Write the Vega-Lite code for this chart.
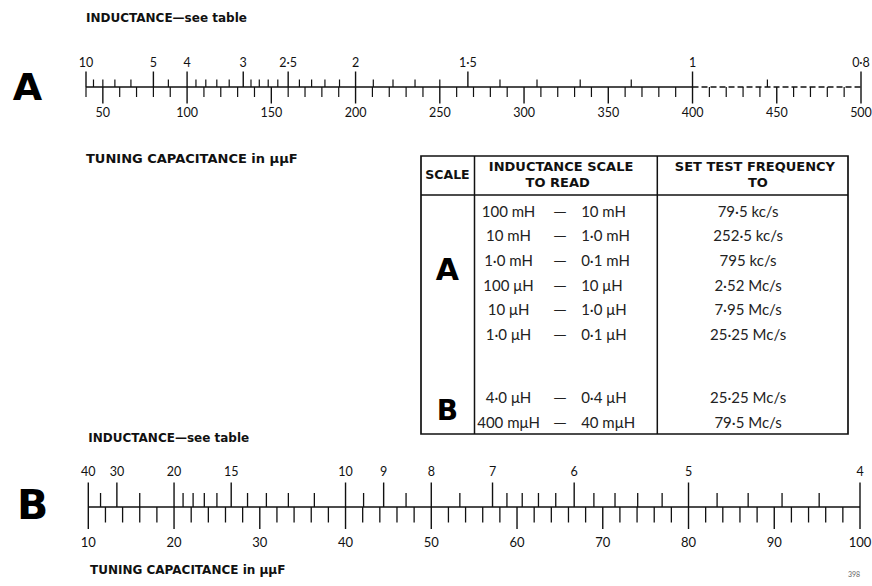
{
  "$schema": "https://vega.github.io/schema/vega-lite/v6.json",
  "padding": 0,
  "spacing": 0,
  "bounds": "flush",
  "config": {"view": {"stroke": null}, "font": "Lato"},
  "resolve": {"scale": {"x": "independent", "y": "independent"}},
  "datasets": {
    "capA": [{"C":40},{"C":50},{"C":60},{"C":70},{"C":80},{"C":90},{"C":100},{"C":110},{"C":120},{"C":130},{"C":140},{"C":150},{"C":160},{"C":170},{"C":180},{"C":190},{"C":200},{"C":210},{"C":220},{"C":230},{"C":240},{"C":250},{"C":260},{"C":270},{"C":280},{"C":290},{"C":300},{"C":310},{"C":320},{"C":330},{"C":340},{"C":350},{"C":360},{"C":370},{"C":380},{"C":390},{"C":400},{"C":410},{"C":420},{"C":430},{"C":440},{"C":450},{"C":460},{"C":470},{"C":480},{"C":490},{"C":500}],
    "indA": [{"L":10,"label":"10"},{"L":9},{"L":8},{"L":7},{"L":6},{"L":5,"label":"5"},{"L":4.5},{"L":4,"label":"4"},{"L":3.8},{"L":3.6},{"L":3.4},{"L":3.2},{"L":3,"label":"3"},{"L":2.9},{"L":2.8},{"L":2.7},{"L":2.6},{"L":2.5,"label":"2·5"},{"L":2.4},{"L":2.3},{"L":2.2},{"L":2.1},{"L":2,"label":"2"},{"L":1.9},{"L":1.8},{"L":1.7},{"L":1.6},{"L":1.5,"label":"1·5"},{"L":1.4},{"L":1.3},{"L":1.2},{"L":1.1},{"L":1,"label":"1"},{"L":0.9},{"L":0.8,"label":"0·8"}],
    "capB": [{"C":10},{"C":12},{"C":14},{"C":16},{"C":18},{"C":20},{"C":22},{"C":24},{"C":26},{"C":28},{"C":30},{"C":32},{"C":34},{"C":36},{"C":38},{"C":40},{"C":42},{"C":44},{"C":46},{"C":48},{"C":50},{"C":52},{"C":54},{"C":56},{"C":58},{"C":60},{"C":62},{"C":64},{"C":66},{"C":68},{"C":70},{"C":72},{"C":74},{"C":76},{"C":78},{"C":80},{"C":82},{"C":84},{"C":86},{"C":88},{"C":90},{"C":92},{"C":94},{"C":96},{"C":98},{"C":100}],
    "indB": [{"L":40,"label":"40"},{"L":35},{"L":30,"label":"30"},{"L":25},{"L":20,"label":"20"},{"L":19},{"L":18},{"L":17},{"L":16},{"L":15,"label":"15"},{"L":14},{"L":13},{"L":12},{"L":11},{"L":10,"label":"10"},{"L":9.5},{"L":9,"label":"9"},{"L":8.5},{"L":8,"label":"8"},{"L":7.5},{"L":7,"label":"7"},{"L":6.8},{"L":6.6},{"L":6.4},{"L":6.2},{"L":6,"label":"6"},{"L":5.8},{"L":5.6},{"L":5.4},{"L":5.2},{"L":5,"label":"5"},{"L":4.8},{"L":4.6},{"L":4.4},{"L":4.2},{"L":4,"label":"4"}],
    "tableA": [
      {"line":1,"from":"100 mH","to":"10 mH","freq":"79·5 kc/s"},
      {"line":2,"from":"10 mH","to":"1·0 mH","freq":"252·5 kc/s"},
      {"line":3,"from":"1·0 mH","to":"0·1 mH","freq":"795 kc/s"},
      {"line":4,"from":"100 μH","to":"10 μH","freq":"2·52 Mc/s"},
      {"line":5,"from":"10 μH","to":"1·0 μH","freq":"7·95 Mc/s"},
      {"line":6,"from":"1·0 μH","to":"0·1 μH","freq":"25·25 Mc/s"}
    ],
    "tableB": [
      {"line":1,"from":"4·0 μH","to":"0·4 μH","freq":"25·25 Mc/s"},
      {"line":2,"from":"400 mμH","to":"40 mμH","freq":"79·5 Mc/s"}
    ]
  },
  "vconcat": [
    {
      "width": 872,
      "height": 156,
      "resolve": {"scale": {"x": "independent"}},
      "layer": [
        {
          "layer": [
            {"data": {"values": [{}]}, "mark": {"type": "rule", "color": "#111", "strokeWidth": 1.4},
             "encoding": {"x": {"datum": 40, "type": "quantitative", "scale": {"domain": [40,500], "range": [86,861], "zero": false, "nice": false}, "axis": null}, "x2": {"datum": 400},
                          "y": {"datum": 0, "type": "quantitative", "scale": {"domain": [-69,87], "zero": false, "nice": false}, "axis": null}}},
            {"data": {"values": [{}]}, "mark": {"type": "rule", "color": "#111", "strokeWidth": 1.4, "strokeDash": [6,3]},
             "encoding": {"x": {"datum": 400, "type": "quantitative", "scale": {"domain": [40,500], "range": [86,861], "zero": false, "nice": false}, "axis": null}, "x2": {"datum": 500},
                          "y": {"datum": 0, "type": "quantitative", "scale": {"domain": [-69,87], "zero": false, "nice": false}, "axis": null}}},
            {"data": {"name": "capA"}, "transform": [{"filter": "datum.C % 50 != 0"}], "mark": {"type": "rule", "color": "#111", "strokeWidth": 1.2},
             "encoding": {"x": {"field": "C", "type": "quantitative", "scale": {"domain": [40,500], "range": [86,861], "zero": false, "nice": false}, "axis": null},
                          "y": {"datum": 0, "type": "quantitative", "scale": {"domain": [-69,87], "zero": false, "nice": false}, "axis": null}, "y2": {"datum": -10}}},
            {"data": {"name": "capA"}, "transform": [{"filter": "datum.C % 50 == 0"}], "mark": {"type": "rule", "color": "#111", "strokeWidth": 1.4},
             "encoding": {"x": {"field": "C", "type": "quantitative", "scale": {"domain": [40,500], "range": [86,861], "zero": false, "nice": false}, "axis": null},
                          "y": {"datum": 0, "type": "quantitative", "scale": {"domain": [-69,87], "zero": false, "nice": false}, "axis": null}, "y2": {"datum": -16.5}}},
            {"data": {"name": "capA"}, "transform": [{"filter": "datum.C % 50 == 0"}], "mark": {"type": "text", "font": "Lato", "fontSize": 12.5, "color": "#111", "baseline": "middle", "align": "center"},
             "encoding": {"x": {"field": "C", "type": "quantitative", "scale": {"domain": [40,500], "range": [86,861], "zero": false, "nice": false}, "axis": null},
                          "y": {"datum": -26, "type": "quantitative", "scale": {"domain": [-69,87], "zero": false, "nice": false}, "axis": null}, "text": {"field": "C", "type": "quantitative"}}},
            {"data": {"values": [{}]}, "mark": {"type": "text", "text": "INDUCTANCE—see table", "font": "DejaVu Sans", "fontWeight": "bold", "fontSize": 12, "color": "#111", "align": "left", "baseline": "middle"},
             "encoding": {"x": {"datum": 40, "type": "quantitative", "scale": {"domain": [40,500], "range": [86,861], "zero": false, "nice": false}, "axis": null},
                          "y": {"datum": 69, "type": "quantitative", "scale": {"domain": [-69,87], "zero": false, "nice": false}, "axis": null}}},
            {"data": {"values": [{}]}, "mark": {"type": "text", "text": "TUNING CAPACITANCE in μμF", "font": "DejaVu Sans", "fontWeight": "bold", "fontSize": 13, "color": "#111", "align": "left", "baseline": "middle"},
             "encoding": {"x": {"datum": 40, "type": "quantitative", "scale": {"domain": [40,500], "range": [86,861], "zero": false, "nice": false}, "axis": null},
                          "y": {"datum": -72, "type": "quantitative", "scale": {"domain": [-69,87], "zero": false, "nice": false}, "axis": null}}},
            {"data": {"values": [{}]}, "mark": {"type": "text", "text": "A", "font": "DejaVu Sans", "fontWeight": "bold", "fontSize": 38, "color": "#000", "align": "center", "baseline": "middle"},
             "encoding": {"x": {"datum": 5.3, "type": "quantitative", "scale": {"domain": [40,500], "range": [86,861], "zero": false, "nice": false}, "axis": null},
                          "y": {"datum": -1.5, "type": "quantitative", "scale": {"domain": [-69,87], "zero": false, "nice": false}, "axis": null}}}
          ]
        },
        {
          "layer": [
            {"data": {"name": "indA"}, "transform": [{"filter": "!datum.label"}], "mark": {"type": "rule", "color": "#111", "strokeWidth": 1.2},
             "encoding": {"x": {"field": "L", "type": "quantitative", "scale": {"type": "pow", "exponent": -1, "domain": [10,0.8], "range": [86,861], "zero": false, "nice": false}, "axis": null},
                          "y": {"datum": 0, "type": "quantitative", "scale": {"domain": [-69,87], "zero": false, "nice": false}, "axis": null}, "y2": {"datum": 7.5}}},
            {"data": {"name": "indA"}, "transform": [{"filter": "datum.label"}], "mark": {"type": "rule", "color": "#111", "strokeWidth": 1.4},
             "encoding": {"x": {"field": "L", "type": "quantitative", "scale": {"type": "pow", "exponent": -1, "domain": [10,0.8], "range": [86,861], "zero": false, "nice": false}, "axis": null},
                          "y": {"datum": 0, "type": "quantitative", "scale": {"domain": [-69,87], "zero": false, "nice": false}, "axis": null}, "y2": {"datum": 15.5}}},
            {"data": {"name": "indA"}, "transform": [{"filter": "datum.label"}], "mark": {"type": "text", "font": "Lato", "fontSize": 12.5, "color": "#111", "baseline": "middle", "align": "center"},
             "encoding": {"x": {"field": "L", "type": "quantitative", "scale": {"type": "pow", "exponent": -1, "domain": [10,0.8], "range": [86,861], "zero": false, "nice": false}, "axis": null},
                          "y": {"datum": 24.5, "type": "quantitative", "scale": {"domain": [-69,87], "zero": false, "nice": false}, "axis": null}, "text": {"field": "label", "type": "nominal"}}}
          ]
        }
      ]
    },
    {
      "width": 872,
      "height": 278,
      "resolve": {"scale": {"y": "independent"}},
      "layer": [
        {
          "layer": [
            {"data": {"values": [{}]}, "mark": {"type": "rect", "filled": false, "color": "#111", "strokeWidth": 1.7},
             "encoding": {"x": {"datum": 0, "type": "quantitative", "scale": {"domain": [0,100], "range": [421,848], "zero": false, "nice": false}, "axis": null}, "x2": {"datum": 100},
                          "y": {"datum": 0, "type": "quantitative", "scale": {"domain": [0,100], "reverse": true, "zero": false, "nice": false}, "axis": null}, "y2": {"datum": 100}}},
            {"data": {"values": [{}]}, "mark": {"type": "rule", "color": "#111", "strokeWidth": 1.5},
             "encoding": {"x": {"datum": 12.53, "type": "quantitative", "scale": {"domain": [0,100], "range": [421,848], "zero": false, "nice": false}, "axis": null},
                          "y": {"datum": 0, "type": "quantitative", "scale": {"domain": [0,100], "reverse": true, "zero": false, "nice": false}, "axis": null}, "y2": {"datum": 100}}},
            {"data": {"values": [{}]}, "mark": {"type": "rule", "color": "#111", "strokeWidth": 1.5},
             "encoding": {"x": {"datum": 55.34, "type": "quantitative", "scale": {"domain": [0,100], "range": [421,848], "zero": false, "nice": false}, "axis": null},
                          "y": {"datum": 0, "type": "quantitative", "scale": {"domain": [0,100], "reverse": true, "zero": false, "nice": false}, "axis": null}, "y2": {"datum": 100}}},
            {"data": {"values": [{}]}, "mark": {"type": "rule", "color": "#111", "strokeWidth": 1.5},
             "encoding": {"x": {"datum": 0, "type": "quantitative", "scale": {"domain": [0,100], "range": [421,848], "zero": false, "nice": false}, "axis": null}, "x2": {"datum": 100},
                          "y": {"datum": 14.0, "type": "quantitative", "scale": {"domain": [0,100], "reverse": true, "zero": false, "nice": false}, "axis": null}}},
            {"data": {"values": [{}]}, "mark": {"type": "text", "text": "SCALE", "font": "DejaVu Sans", "fontWeight": "bold", "fontSize": 12.5, "color": "#111", "align": "center", "baseline": "middle"},
             "encoding": {"x": {"datum": 6.2, "type": "quantitative", "scale": {"domain": [0,100], "range": [421,848], "zero": false, "nice": false}, "axis": null},
                          "y": {"datum": 6.9, "type": "quantitative", "scale": {"domain": [0,100], "reverse": true, "zero": false, "nice": false}, "axis": null}}},
            {"data": {"values": [{}]}, "mark": {"type": "text", "text": "INDUCTANCE SCALE", "font": "DejaVu Sans", "fontWeight": "bold", "fontSize": 13, "color": "#111", "align": "center", "baseline": "middle"},
             "encoding": {"x": {"datum": 32.8, "type": "quantitative", "scale": {"domain": [0,100], "range": [421,848], "zero": false, "nice": false}, "axis": null},
                          "y": {"datum": 4.1, "type": "quantitative", "scale": {"domain": [0,100], "reverse": true, "zero": false, "nice": false}, "axis": null}}},
            {"data": {"values": [{}]}, "mark": {"type": "text", "text": "TO READ", "font": "DejaVu Sans", "fontWeight": "bold", "fontSize": 13, "color": "#111", "align": "center", "baseline": "middle"},
             "encoding": {"x": {"datum": 32.0, "type": "quantitative", "scale": {"domain": [0,100], "range": [421,848], "zero": false, "nice": false}, "axis": null},
                          "y": {"datum": 9.8, "type": "quantitative", "scale": {"domain": [0,100], "reverse": true, "zero": false, "nice": false}, "axis": null}}},
            {"data": {"values": [{}]}, "mark": {"type": "text", "text": "SET TEST FREQUENCY", "font": "DejaVu Sans", "fontWeight": "bold", "fontSize": 13, "color": "#111", "align": "center", "baseline": "middle"},
             "encoding": {"x": {"datum": 78.2, "type": "quantitative", "scale": {"domain": [0,100], "range": [421,848], "zero": false, "nice": false}, "axis": null},
                          "y": {"datum": 4.1, "type": "quantitative", "scale": {"domain": [0,100], "reverse": true, "zero": false, "nice": false}, "axis": null}}},
            {"data": {"values": [{}]}, "mark": {"type": "text", "text": "TO", "font": "DejaVu Sans", "fontWeight": "bold", "fontSize": 13, "color": "#111", "align": "center", "baseline": "middle"},
             "encoding": {"x": {"datum": 78.9, "type": "quantitative", "scale": {"domain": [0,100], "range": [421,848], "zero": false, "nice": false}, "axis": null},
                          "y": {"datum": 9.8, "type": "quantitative", "scale": {"domain": [0,100], "reverse": true, "zero": false, "nice": false}, "axis": null}}}
          ]
        },
        {
          "layer": [
            {"data": {"name": "tableA"}, "mark": {"type": "text", "font": "Lato", "fontSize": 15, "color": "#222", "align": "center", "baseline": "middle"},
             "encoding": {"x": {"datum": 20.5, "type": "quantitative", "scale": {"domain": [0,100], "range": [421,848], "zero": false, "nice": false}, "axis": null},
                          "y": {"field": "line", "type": "quantitative", "scale": {"domain": [-1.2587,10.0146], "reverse": true, "zero": false, "nice": false}, "axis": null}, "text": {"field": "from", "type": "nominal"}}},
            {"data": {"name": "tableA"}, "mark": {"type": "text", "text": "—", "font": "DejaVu Sans", "fontSize": 13, "color": "#222", "align": "center", "baseline": "middle"},
             "encoding": {"x": {"datum": 32.55, "type": "quantitative", "scale": {"domain": [0,100], "range": [421,848], "zero": false, "nice": false}, "axis": null},
                          "y": {"field": "line", "type": "quantitative", "scale": {"domain": [-1.2587,10.0146], "reverse": true, "zero": false, "nice": false}, "axis": null}}},
            {"data": {"name": "tableA"}, "mark": {"type": "text", "font": "Lato", "fontSize": 15, "color": "#222", "align": "left", "baseline": "middle"},
             "encoding": {"x": {"datum": 37.5, "type": "quantitative", "scale": {"domain": [0,100], "range": [421,848], "zero": false, "nice": false}, "axis": null},
                          "y": {"field": "line", "type": "quantitative", "scale": {"domain": [-1.2587,10.0146], "reverse": true, "zero": false, "nice": false}, "axis": null}, "text": {"field": "to", "type": "nominal"}}},
            {"data": {"name": "tableA"}, "mark": {"type": "text", "font": "Lato", "fontSize": 15, "color": "#222", "align": "center", "baseline": "middle"},
             "encoding": {"x": {"datum": 76.6, "type": "quantitative", "scale": {"domain": [0,100], "range": [421,848], "zero": false, "nice": false}, "axis": null},
                          "y": {"field": "line", "type": "quantitative", "scale": {"domain": [-1.2587,10.0146], "reverse": true, "zero": false, "nice": false}, "axis": null}, "text": {"field": "freq", "type": "nominal"}}},
            {"data": {"values": [{}]}, "mark": {"type": "text", "text": "A", "font": "DejaVu Sans", "fontWeight": "bold", "fontSize": 30, "color": "#000", "align": "center", "baseline": "middle"},
             "encoding": {"x": {"datum": 6.2, "type": "quantitative", "scale": {"domain": [0,100], "range": [421,848], "zero": false, "nice": false}, "axis": null},
                          "y": {"datum": 3.4, "type": "quantitative", "scale": {"domain": [-1.2587,10.0146], "reverse": true, "zero": false, "nice": false}, "axis": null}}}
          ]
        },
        {
          "layer": [
            {"data": {"name": "tableB"}, "mark": {"type": "text", "font": "Lato", "fontSize": 15, "color": "#222", "align": "center", "baseline": "middle"},
             "encoding": {"x": {"datum": 20.5, "type": "quantitative", "scale": {"domain": [0,100], "range": [421,848], "zero": false, "nice": false}, "axis": null},
                          "y": {"field": "line", "type": "quantitative", "scale": {"domain": [-8.692,2.428], "reverse": true, "zero": false, "nice": false}, "axis": null}, "text": {"field": "from", "type": "nominal"}}},
            {"data": {"name": "tableB"}, "mark": {"type": "text", "text": "—", "font": "DejaVu Sans", "fontSize": 13, "color": "#222", "align": "center", "baseline": "middle"},
             "encoding": {"x": {"datum": 32.55, "type": "quantitative", "scale": {"domain": [0,100], "range": [421,848], "zero": false, "nice": false}, "axis": null},
                          "y": {"field": "line", "type": "quantitative", "scale": {"domain": [-8.692,2.428], "reverse": true, "zero": false, "nice": false}, "axis": null}}},
            {"data": {"name": "tableB"}, "mark": {"type": "text", "font": "Lato", "fontSize": 15, "color": "#222", "align": "left", "baseline": "middle"},
             "encoding": {"x": {"datum": 37.5, "type": "quantitative", "scale": {"domain": [0,100], "range": [421,848], "zero": false, "nice": false}, "axis": null},
                          "y": {"field": "line", "type": "quantitative", "scale": {"domain": [-8.692,2.428], "reverse": true, "zero": false, "nice": false}, "axis": null}, "text": {"field": "to", "type": "nominal"}}},
            {"data": {"name": "tableB"}, "mark": {"type": "text", "font": "Lato", "fontSize": 15, "color": "#222", "align": "center", "baseline": "middle"},
             "encoding": {"x": {"datum": 76.6, "type": "quantitative", "scale": {"domain": [0,100], "range": [421,848], "zero": false, "nice": false}, "axis": null},
                          "y": {"field": "line", "type": "quantitative", "scale": {"domain": [-8.692,2.428], "reverse": true, "zero": false, "nice": false}, "axis": null}, "text": {"field": "freq", "type": "nominal"}}},
            {"data": {"values": [{}]}, "mark": {"type": "text", "text": "B", "font": "DejaVu Sans", "fontWeight": "bold", "fontSize": 28, "color": "#000", "align": "center", "baseline": "middle"},
             "encoding": {"x": {"datum": 6.2, "type": "quantitative", "scale": {"domain": [0,100], "range": [421,848], "zero": false, "nice": false}, "axis": null},
                          "y": {"datum": 1.55, "type": "quantitative", "scale": {"domain": [-8.692,2.428], "reverse": true, "zero": false, "nice": false}, "axis": null}}}
          ]
        }
      ]
    },
    {
      "width": 872,
      "height": 152,
      "resolve": {"scale": {"x": "independent"}},
      "layer": [
        {
          "layer": [
            {"data": {"values": [{}]}, "mark": {"type": "rule", "color": "#111", "strokeWidth": 1.4},
             "encoding": {"x": {"datum": 10, "type": "quantitative", "scale": {"domain": [10,100], "range": [88.3,860], "zero": false, "nice": false}, "axis": null}, "x2": {"datum": 100},
                          "y": {"datum": 0, "type": "quantitative", "scale": {"domain": [-79,73], "zero": false, "nice": false}, "axis": null}}},
            {"data": {"name": "capB"}, "transform": [{"filter": "datum.C % 10 != 0"}], "mark": {"type": "rule", "color": "#111", "strokeWidth": 1.3},
             "encoding": {"x": {"field": "C", "type": "quantitative", "scale": {"domain": [10,100], "range": [88.3,860], "zero": false, "nice": false}, "axis": null},
                          "y": {"datum": 0, "type": "quantitative", "scale": {"domain": [-79,73], "zero": false, "nice": false}, "axis": null}, "y2": {"datum": -15.5}}},
            {"data": {"name": "capB"}, "transform": [{"filter": "datum.C % 10 == 0"}], "mark": {"type": "rule", "color": "#111", "strokeWidth": 1.4},
             "encoding": {"x": {"field": "C", "type": "quantitative", "scale": {"domain": [10,100], "range": [88.3,860], "zero": false, "nice": false}, "axis": null},
                          "y": {"datum": 0, "type": "quantitative", "scale": {"domain": [-79,73], "zero": false, "nice": false}, "axis": null}, "y2": {"datum": -22}}},
            {"data": {"name": "capB"}, "transform": [{"filter": "datum.C % 10 == 0"}], "mark": {"type": "text", "font": "Lato", "fontSize": 13, "color": "#111", "baseline": "middle", "align": "center"},
             "encoding": {"x": {"field": "C", "type": "quantitative", "scale": {"domain": [10,100], "range": [88.3,860], "zero": false, "nice": false}, "axis": null},
                          "y": {"datum": -36, "type": "quantitative", "scale": {"domain": [-79,73], "zero": false, "nice": false}, "axis": null}, "text": {"field": "C", "type": "quantitative"}}},
            {"data": {"values": [{}]}, "mark": {"type": "text", "text": "INDUCTANCE—see table", "font": "DejaVu Sans", "fontWeight": "bold", "fontSize": 12, "color": "#111", "align": "left", "baseline": "middle"},
             "encoding": {"x": {"datum": 10, "type": "quantitative", "scale": {"domain": [10,100], "range": [88.3,860], "zero": false, "nice": false}, "axis": null},
                          "y": {"datum": 69, "type": "quantitative", "scale": {"domain": [-79,73], "zero": false, "nice": false}, "axis": null}}},
            {"data": {"values": [{}]}, "mark": {"type": "text", "text": "TUNING CAPACITANCE in μμF", "font": "DejaVu Sans", "fontWeight": "bold", "fontSize": 12, "color": "#111", "align": "left", "baseline": "middle"},
             "encoding": {"x": {"datum": 10.2, "type": "quantitative", "scale": {"domain": [10,100], "range": [88.3,860], "zero": false, "nice": false}, "axis": null},
                          "y": {"datum": -63, "type": "quantitative", "scale": {"domain": [-79,73], "zero": false, "nice": false}, "axis": null}}},
            {"data": {"values": [{}]}, "mark": {"type": "text", "text": "B", "font": "DejaVu Sans", "fontWeight": "bold", "fontSize": 41, "color": "#000", "align": "center", "baseline": "middle"},
             "encoding": {"x": {"datum": 3.5, "type": "quantitative", "scale": {"domain": [10,100], "range": [88.3,860], "zero": false, "nice": false}, "axis": null},
                          "y": {"datum": 0, "type": "quantitative", "scale": {"domain": [-79,73], "zero": false, "nice": false}, "axis": null}}},
            {"data": {"values": [{}]}, "mark": {"type": "text", "text": "398", "font": "Lato", "fontSize": 7, "color": "#666", "align": "center", "baseline": "middle"},
             "encoding": {"x": {"datum": 99.3, "type": "quantitative", "scale": {"domain": [10,100], "range": [88.3,860], "zero": false, "nice": false}, "axis": null},
                          "y": {"datum": -68, "type": "quantitative", "scale": {"domain": [-79,73], "zero": false, "nice": false}, "axis": null}}}
          ]
        },
        {
          "layer": [
            {"data": {"name": "indB"}, "transform": [{"filter": "!datum.label"}], "mark": {"type": "rule", "color": "#111", "strokeWidth": 1.3},
             "encoding": {"x": {"field": "L", "type": "quantitative", "scale": {"type": "pow", "exponent": -1, "domain": [40,4], "range": [88.3,860], "zero": false, "nice": false}, "axis": null},
                          "y": {"datum": 0, "type": "quantitative", "scale": {"domain": [-79,73], "zero": false, "nice": false}, "axis": null}, "y2": {"datum": 14}}},
            {"data": {"name": "indB"}, "transform": [{"filter": "datum.label"}], "mark": {"type": "rule", "color": "#111", "strokeWidth": 1.4},
             "encoding": {"x": {"field": "L", "type": "quantitative", "scale": {"type": "pow", "exponent": -1, "domain": [40,4], "range": [88.3,860], "zero": false, "nice": false}, "axis": null},
                          "y": {"datum": 0, "type": "quantitative", "scale": {"domain": [-79,73], "zero": false, "nice": false}, "axis": null}, "y2": {"datum": 24.5}}},
            {"data": {"name": "indB"}, "transform": [{"filter": "datum.label"}], "mark": {"type": "text", "font": "Lato", "fontSize": 12.5, "color": "#111", "baseline": "middle", "align": "center"},
             "encoding": {"x": {"field": "L", "type": "quantitative", "scale": {"type": "pow", "exponent": -1, "domain": [40,4], "range": [88.3,860], "zero": false, "nice": false}, "axis": null},
                          "y": {"datum": 35, "type": "quantitative", "scale": {"domain": [-79,73], "zero": false, "nice": false}, "axis": null}, "text": {"field": "label", "type": "nominal"}}}
          ]
        }
      ]
    }
  ]
}
